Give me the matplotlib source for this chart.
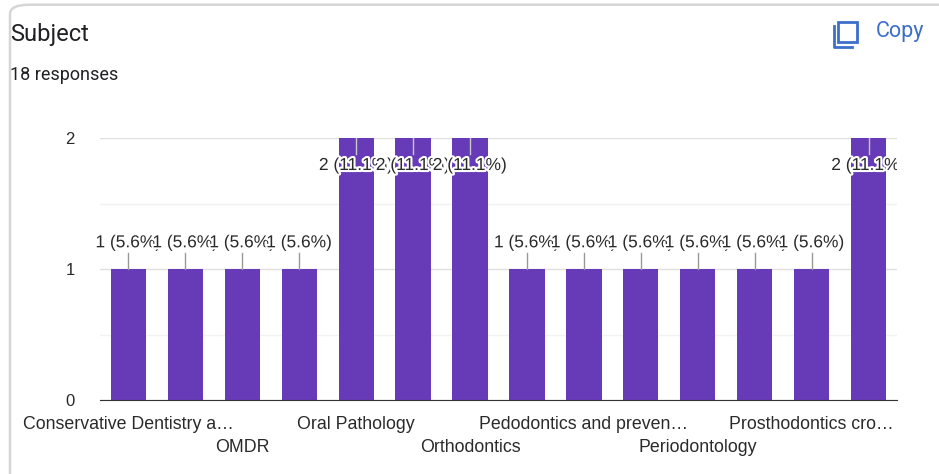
import matplotlib.pyplot as plt
import matplotlib.patheffects as pe
from matplotlib.patches import FancyBboxPatch, Rectangle
from matplotlib.transforms import Bbox, TransformedBbox

# --- Data ---
subjects = [
    "Conservative Dentistry and Endodontics", "Community Dentistry", "OMDR",
    "Oral Medicine", "Oral Pathology", "Oral Surgery", "Orthodontics",
    "Pediatric Dentistry", "Pedodontics and preventive dentistry", "Periodontics",
    "Periodontology", "Prosthodontics", "Prosthodontics crown and bridge",
    "Public Health Dentistry",
]
tick_labels = [
    "Conservative Dentistry a\u2026", "", "OMDR", "", "Oral Pathology", "",
    "Orthodontics", "", "Pedodontics and preven\u2026", "", "Periodontology", "",
    "Prosthodontics cro\u2026", "",
]
counts = [1, 1, 1, 1, 2, 2, 2, 1, 1, 1, 1, 1, 1, 2]
total = sum(counts)  # 18 responses

purple = "#673ab7"
text_col = "#2a2a2a"
halo = [pe.withStroke(linewidth=3, foreground="white")]

fig = plt.figure(figsize=(9.39, 4.74), dpi=100)
fig.patch.set_facecolor("white")

# --- card border ---
card = FancyBboxPatch((10 / 939, -0.2), 1.2, 1.19, boxstyle="round,pad=0,rounding_size=0.02",
                      transform=fig.transFigure, facecolor="none", edgecolor="#d6d6d6", linewidth=1.8)
fig.add_artist(card)

# --- header texts ---
fig.text(10 / 939, 1 - 35 / 474, "Subject", fontsize=17, family="Roboto", color="#202124", va="center")
fig.text(10 / 939, 1 - 75 / 474, f"{total} responses", fontsize=13, family="Roboto", color="#202124", va="center")

# copy icon + label
icon_col = "#3c6fc9"
fig.add_artist(Rectangle((838 / 939, 1 - 42 / 474), 19 / 939, 20 / 474, transform=fig.transFigure,
                         facecolor="white", edgecolor=icon_col, linewidth=2))
fig.add_artist(plt.Line2D([834 / 939, 834 / 939, 852 / 939], [1 - 26 / 474, 1 - 47 / 474, 1 - 47 / 474],
                          transform=fig.transFigure, color=icon_col, linewidth=2))
fig.text(876 / 939, 1 - 32 / 474, "Copy", fontsize=15.5, family="Roboto", color=icon_col, va="center")

# --- chart ---
ax = fig.add_axes([100 / 939, 74 / 474, 797 / 939, 262 / 474])
x = list(range(len(subjects)))
ax.bar(x, counts, width=0.62, color=purple, zorder=2)

ax.set_xlim(-0.5, len(subjects) - 0.5)
ax.set_ylim(0, 2)
ax.set_yticks([0, 1, 2])
ax.set_yticks([0.5, 1.5], minor=True)
ax.grid(axis="y", which="major", color="#e0e0e0", linewidth=1, zorder=0)
ax.grid(axis="y", which="minor", color="#f2f2f2", linewidth=1, zorder=0)
ax.tick_params(axis="y", which="both", length=0, pad=18, labelsize=12, labelcolor=text_col)
ax.set_xticks([])
for s in ["top", "right", "left"]:
    ax.spines[s].set_visible(False)
ax.spines["bottom"].set_color("#333333")
ax.spines["bottom"].set_zorder(3)
for lab in ax.get_yticklabels():
    lab.set_family("Liberation Sans")

# staggered category labels (every other one shown)
row = 0
for xi, lab in zip(x, tick_labels):
    if not lab:
        continue
    y = -0.092 if row % 2 == 0 else -0.18
    ax.text(xi, y, lab, transform=ax.get_xaxis_transform(), ha="center", va="center",
            fontsize=12.8, family="Liberation Sans", color=text_col)
    row += 1

# labels get cut only at the right edge of the plot area
clip = TransformedBbox(Bbox([[0, 0], [897 / 939, 1]]), fig.transFigure)

# value annotations with leader lines
for xi, c in zip(x, counts):
    label = f"{c} ({c / total * 100:.1f}%)"
    if c == 2:
        ax.plot([xi, xi], [c, c - 0.12], color="#c8c8c8", linewidth=1, zorder=3)
        ty = c - 0.21
    else:
        ax.plot([xi, xi], [c, c + 0.12], color="#999999", linewidth=1, zorder=3)
        ty = c + 0.20
    t = ax.text(xi, ty, label, ha="center", va="center", fontsize=12.5, family="Liberation Sans",
                color=text_col, path_effects=halo, zorder=4)
    t.set_clip_box(clip)
    t.set_clip_on(True)

fig.savefig("out.png", dpi=100)
